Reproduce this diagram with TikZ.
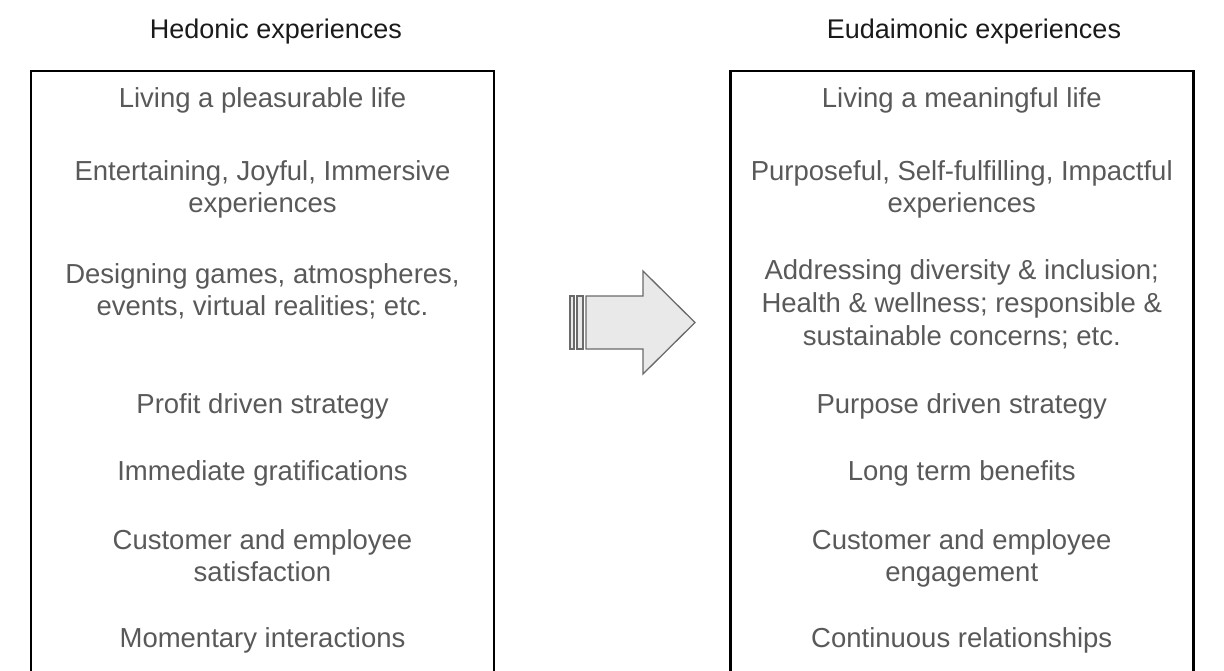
\documentclass[tikz,border=0pt]{standalone}
\usepackage{fontspec}
\setmainfont{Liberation Sans}
\definecolor{itemgray}{HTML}{595959}
\definecolor{headgray}{HTML}{1A1A1A}
\definecolor{arrowfill}{HTML}{E9E9E9}
\definecolor{arrowline}{HTML}{6A6A6A}
\begin{document}
\begin{tikzpicture}[x=1pt,y=-1pt,
  panel/.style={draw=black, line width=2.6pt, minimum width=463pt, minimum height=640pt, inner sep=0pt, anchor=north},
  item/.style={anchor=base, inner sep=0pt, text=itemgray, font=\fontsize{27.5}{32}\selectfont},
  heading/.style={anchor=base, inner sep=0pt, text=headgray, font=\fontsize{27}{32}\selectfont},
  arrowbody/.style={fill=arrowfill, draw=arrowline, line width=1.3pt, line join=miter}]

\useasboundingbox (0,0) rectangle (1224,670);
\clip (0,0) rectangle (1224,670);

% column headings
\node[heading] (hedhead) at (276,38) {Hedonic experiences};
\node[heading] (eudhead) at (974,38) {Eudaimonic experiences};

% the two panels (running past the lower edge)
\node[panel] (hedbox) at (262.5,69.5) {};
\node[panel] (eudbox) at (961.75,69.5) {};

% hedonic column
\node[item] (h1)  at (262.5,107) {Living a pleasurable life};
\node[item] (h2a) at (262.5,180) {Entertaining, Joyful, Immersive};
\node[item] (h2b) at (262.5,212) {experiences};
\node[item] (h3a) at (262.5,283) {Designing games, atmospheres,};
\node[item] (h3b) at (262.5,315) {events, virtual realities; etc.};
\node[item] (h4)  at (262.5,413) {Profit driven strategy};
\node[item] (h5)  at (262.5,480) {Immediate gratifications};
\node[item] (h6a) at (262.5,549) {Customer and employee};
\node[item] (h6b) at (262.5,581) {satisfaction};
\node[item] (h7)  at (262.5,647) {Momentary interactions};

% eudaimonic column
\node[item] (e1)  at (961.75,107) {Living a meaningful life};
\node[item] (e2a) at (961.75,180) {Purposeful, Self-fulfilling, Impactful};
\node[item] (e2b) at (961.75,212) {experiences};
\node[item] (e3a) at (961.75,279) {Addressing diversity \& inclusion;};
\node[item] (e3b) at (961.75,312) {Health \& wellness; responsible \&};
\node[item] (e3c) at (961.75,345) {sustainable concerns; etc.};
\node[item] (e4)  at (961.75,413) {Purpose driven strategy};
\node[item] (e5)  at (961.75,480) {Long term benefits};
\node[item] (e6a) at (961.75,549) {Customer and employee};
\node[item] (e6b) at (961.75,581) {engagement};
\node[item] (e7)  at (961.75,647) {Continuous relationships};

% block arrow with striped tail
\draw[arrowbody] (570,296) rectangle (574,349);
\draw[arrowbody] (577,296) rectangle (583,349);
\draw[arrowbody] (586,296) -- (643,296) -- (643,271) -- (695,322.5)
  -- (643,374) -- (643,349) -- (586,349) -- cycle;
\end{tikzpicture}
\end{document}
